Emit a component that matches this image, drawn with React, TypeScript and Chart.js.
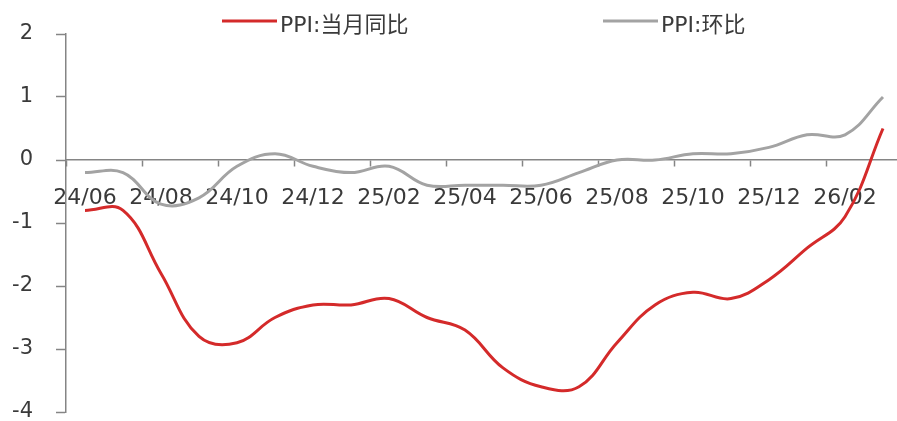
import React, { useEffect, useRef } from 'react';
import { Chart, registerables } from 'chart.js';

Chart.register(...registerables);

// ---- data ----
const months = [
  '24/06', '24/07', '24/08', '24/09', '24/10', '24/11', '24/12',
  '25/01', '25/02', '25/03', '25/04', '25/05', '25/06', '25/07',
  '25/08', '25/09', '25/10', '25/11', '25/12', '26/01', '26/02', '26/03',
];
const ppiYoY = [
  -0.8, -0.8, -1.8, -2.8, -2.9, -2.5, -2.3,
  -2.3, -2.2, -2.5, -2.7, -3.3, -3.6, -3.6,
  -2.9, -2.3, -2.1, -2.2, -1.9, -1.4, -0.9, 0.5,
];
const ppiMoM = [
  -0.2, -0.2, -0.7, -0.6, -0.1, 0.1, -0.1,
  -0.2, -0.1, -0.4, -0.4, -0.4, -0.4, -0.2,
  0.0, 0.0, 0.1, 0.1, 0.2, 0.4, 0.4, 1.0,
];
const yTickValues = [-4, -3, -2, -1, 0, 1, 2];
const seriesNames = ['PPI:当月同比', 'PPI:环比'];
const labelEvery = 2;

// ---- style ----
const RED = '#D42A2A';
const GRAY = '#A3A3A3';
const AXIS = '#858585';
const TEXT = '#3a3a3a';
const FONT_FAMILY = '"DejaVu Sans", "Noto Sans CJK SC", sans-serif';
const CANVAS_W = 902;
const CANVAS_H = 421;
const LEGEND_X = [222, 603];
const LEGEND_Y = 21;
const LEGEND_LINE = 55;

const legendPlugin = {
  id: 'customLegend',
  afterDraw(chart: any) {
    const ctx = chart.ctx;
    ctx.save();
    ctx.font = `22px ${FONT_FAMILY}`;
    ctx.textBaseline = 'middle';
    ctx.textAlign = 'left';
    const colors = [RED, GRAY];
    seriesNames.forEach((name, i) => {
      const x = LEGEND_X[i];
      ctx.strokeStyle = colors[i];
      ctx.lineWidth = 3;
      ctx.beginPath();
      ctx.moveTo(x, LEGEND_Y);
      ctx.lineTo(x + LEGEND_LINE, LEGEND_Y);
      ctx.stroke();
      ctx.fillStyle = TEXT;
      ctx.fillText(name, x + LEGEND_LINE + 3, LEGEND_Y + 5);
    });
    ctx.restore();
  },
};

const zeroPadding = (scale: any) => {
  scale.paddingTop = 0;
  scale.paddingBottom = 0;
  scale.paddingLeft = 0;
  scale.paddingRight = 0;
};

export default function App() {
  const canvasRef = useRef<HTMLCanvasElement | null>(null);

  useEffect(() => {
    const canvas = canvasRef.current;
    if (!canvas) return;
    const chart = new Chart(canvas, {
      type: 'line',
      data: {
        labels: months,
        datasets: [
          {
            label: seriesNames[0],
            data: ppiYoY,
            borderColor: RED,
            backgroundColor: RED,
            borderWidth: 3,
            pointRadius: 0,
            tension: 0.4,
          },
          {
            label: seriesNames[1],
            data: ppiMoM,
            borderColor: GRAY,
            backgroundColor: GRAY,
            borderWidth: 3,
            pointRadius: 0,
            tension: 0.4,
          },
        ],
      },
      options: {
        animation: false,
        responsive: false,
        devicePixelRatio: 1,
        layout: { padding: { top: 34, bottom: 9, left: 0, right: 0 } },
        plugins: {
          legend: { display: false },
          tooltip: { enabled: false },
        },
        scales: {
          x: {
            type: 'category',
            position: { y: 0 } as any,
            offset: true,
            afterFit: (scale: any) => {
              zeroPadding(scale);
            },
            border: { display: true, color: AXIS, width: 1.5 },
            grid: {
              display: true,
              offset: true,
              drawOnChartArea: false,
              drawTicks: true,
              tickLength: 6,
              tickWidth: 1.5,
              tickColor: (c: any) => (c.index % labelEvery === 0 ? AXIS : 'rgba(0,0,0,0)'),
            },
            ticks: {
              autoSkip: false,
              maxRotation: 0,
              minRotation: 0,
              padding: 19,
              color: TEXT,
              font: { family: FONT_FAMILY, size: 22 },
              callback: (_v: any, i: number) => (i % labelEvery === 0 ? months[i] : ''),
            },
          },
          y: {
            type: 'linear',
            min: yTickValues[0],
            max: yTickValues[yTickValues.length - 1],
            afterBuildTicks: (scale: any) => {
              scale.ticks = yTickValues.map((v) => ({ value: v }));
            },
            afterFit: (scale: any) => {
              scale.width = 66;
              zeroPadding(scale);
            },
            border: { display: true, color: AXIS, width: 1.5 },
            grid: {
              display: true,
              drawOnChartArea: false,
              drawTicks: true,
              tickLength: 10,
              tickWidth: 1.5,
              tickColor: AXIS,
            },
            ticks: {
              padding: 23,
              color: TEXT,
              font: { family: FONT_FAMILY, size: 21, lineHeight: 1 },
            },
          },
        },
      },
      plugins: [legendPlugin],
    });
    return () => chart.destroy();
  }, []);

  return (
    <div
      style={{
        position: 'fixed',
        left: 0,
        top: 0,
        width: 897,
        height: 421,
        overflow: 'hidden',
        background: '#ffffff',
      }}
    >
      <canvas
        ref={canvasRef}
        width={CANVAS_W}
        height={CANVAS_H}
        style={{ width: CANVAS_W, height: CANVAS_H, display: 'block' }}
      />
    </div>
  );
}
